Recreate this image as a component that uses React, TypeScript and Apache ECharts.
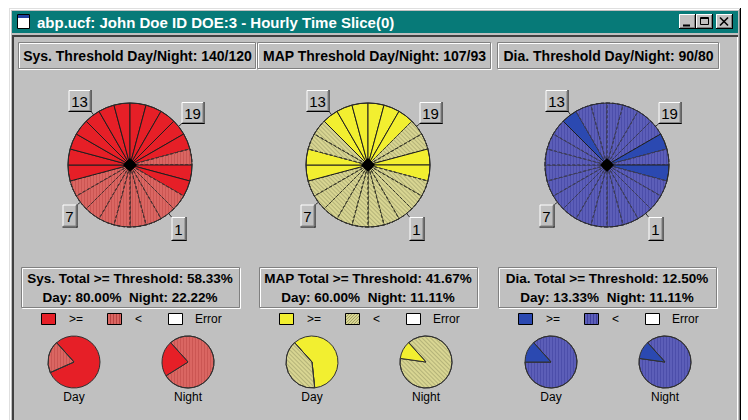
import React, { useEffect, useRef } from "react";
import * as echarts from "echarts";

// ---------------- data ----------------
const titleText = "abp.ucf: John Doe ID DOE:3 - Hourly Time Slice(0)";
const measureNames = ["Sys.", "MAP", "Dia."];
const dayThresholds = [140, 107, 90];
const nightThresholds = [120, 93, 80];
const hours = [1, 2, 3, 4, 5, 6, 7, 8, 9, 10, 11, 12, 13, 14, 15, 16, 17, 18, 19, 20, 21, 22, 23, 24];
const dayHours = [7, 8, 9, 10, 11, 12, 13, 14, 15, 16, 17, 18, 19, 20, 21];
// 1 = hourly mean >= threshold, 0 = below threshold
const sysAbove = [0, 0, 0, 0, 0, 0, 0, 0, 1, 1, 1, 1, 1, 1, 1, 1, 1, 1, 1, 1, 0, 1, 1, 0];
const mapAbove = [0, 0, 0, 0, 0, 0, 0, 0, 1, 1, 0, 0, 1, 1, 1, 1, 1, 1, 0, 0, 1, 1, 0, 0];
const diaAbove = [0, 0, 0, 0, 0, 0, 0, 0, 0, 0, 0, 0, 1, 0, 0, 0, 0, 0, 0, 1, 0, 1, 0, 0];
const hourTickLabels = ["13", "19", "7", "1"];
const legendLabels = [">=", "<", "Error"];
const periodLabels = ["Day", "Night"];

// ---------------- styles / layout ----------------
const FONT = '"Liberation Sans", Arial, sans-serif';
const palettes = [
  {
    above: "#e61f27",
    below: "#da6662",
    decal: { symbol: "rect", symbolSize: 1, color: "rgba(170,50,50,0.3)", dashArrayX: [1, 2], dashArrayY: [1, 0], rotation: 0 },
    stripe: "v",
    stripeColor: "rgba(160,40,40,0.55)",
    dash: "#4a3030",
  },
  {
    above: "#f2ef30",
    below: "#d8d592",
    decal: { symbol: "rect", symbolSize: 1, color: "rgba(150,150,100,0.55)", dashArrayX: [1, 0], dashArrayY: [1, 2], rotation: Math.PI / 4 },
    stripe: "d",
    stripeColor: "rgba(150,150,90,0.8)",
    dash: "#3a3a2a",
  },
  {
    above: "#2b49b1",
    below: "#5c5eb8",
    decal: { symbol: "rect", symbolSize: 1, color: "rgba(40,40,140,0.3)", dashArrayX: [1, 2], dashArrayY: [1, 0], rotation: 0 },
    stripe: "v",
    stripeColor: "rgba(40,40,140,0.55)",
    dash: "#3c3c58",
  },
];
const pieCx = [130, 368, 607];
const BIG_CY = 165;
const BIG_R = 62;
const SMALL_CY = 362;
const SMALL_R = 26;
const smallOffsets = [-56, 58];
const headerBoxes = [
  [18, 237],
  [257, 233],
  [497, 221],
];
// hour label boxes: [dx, dy, w, h] relative to pie centre (centre of box)
const hourBoxGeom = [
  [-50, -64, 23, 22],
  [63, -52, 23, 22],
  [-60, 51, 15, 23],
  [49, 64, 15, 24],
];

function stats(arr: number[]) {
  let total = 0, dA = 0, dN = 0, nA = 0, nN = 0;
  hours.forEach((h, i) => {
    total += arr[i];
    if (dayHours.includes(h)) { dN++; dA += arr[i]; } else { nN++; nA += arr[i]; }
  });
  return { total: (total / arr.length) * 100, day: (dA / dN) * 100, night: (nA / nN) * 100 };
}

function buildOption() {
  const measures = [sysAbove, mapAbove, diaAbove];
  const els: any[] = [];
  const rect = (x: number, y: number, w: number, h: number, fill: any, stroke: any = null, lw = 1, z = 0) =>
    els.push({ type: "rect", shape: { x, y, width: w, height: h }, style: { fill, stroke, lineWidth: lw }, z, silent: true });
  const line = (x1: number, y1: number, x2: number, y2: number, stroke: string, lw = 1, z = 0) =>
    els.push({ type: "line", shape: { x1, y1, x2, y2 }, style: { stroke, lineWidth: lw }, z, silent: true });
  const text = (x: number, y: number, t: string, font: string, fill = "#000", align = "left", z = 1) =>
    els.push({ type: "text", x, y, style: { text: t, font, fill, textAlign: align, textVerticalAlign: "middle" }, z, silent: true });
  const raised = (x: number, y: number, w: number, h: number, z = 0) => {
    rect(x, y, w, h, "#c0c0c0", null, 1, z);
    line(x + 0.5, y + 0.5, x + w - 1, y + 0.5, "#ffffff", 1, z);
    line(x + 0.5, y + 0.5, x + 0.5, y + h - 1, "#ffffff", 1, z);
    line(x + w - 0.5, y, x + w - 0.5, y + h, "#000000", 1, z);
    line(x, y + h - 0.5, x + w, y + h - 0.5, "#000000", 1, z);
    line(x + w - 1.5, y + 1, x + w - 1.5, y + h - 1, "#808080", 1, z);
    line(x + 1, y + h - 1.5, x + w - 1, y + h - 1.5, "#808080", 1, z);
  };
  const etched = (x: number, y: number, w: number, h: number) => {
    rect(x + 1.5, y + 1.5, w, h, null, "#ffffff");
    rect(x + 0.5, y + 0.5, w, h, null, "#808080");
  };

  // window
  rect(0, 0, 748, 420, "#ffffff");
  rect(9, 8, 732, 420, "#c0c0c0");
  line(9.5, 8, 9.5, 420, "#dfdfdf");
  line(9, 8.5, 741, 8.5, "#dfdfdf");
  line(10.5, 9, 10.5, 420, "#ffffff");
  line(10, 9.5, 740, 9.5, "#ffffff");
  line(740.5, 8, 740.5, 420, "#000000");
  line(739.5, 9, 739.5, 420, "#808080");
  // title bar
  rect(12, 11, 726, 22, "#077a78");
  rect(17.5, 14.5, 12, 14, "#ffffff", "#000000");
  rect(18, 15, 11, 3, "#2040a0");
  text(37, 22.5, titleText, `bold 15px ${FONT}`, "#ffffff");
  // window buttons
  raised(679, 14, 17, 15);
  line(683, 25.5, 690, 25.5, "#000", 2);
  raised(696, 14, 17, 15);
  rect(700.5, 17.5, 8, 7, null, "#000");
  line(700, 18.5, 709, 18.5, "#000", 1);
  raised(716, 14, 17, 15);
  line(720, 17.5, 728, 25.5, "#000", 1.6);
  line(728, 17.5, 720, 25.5, "#000", 1.6);
  // client area frame
  line(12, 36, 738, 36, "#404040", 2);
  line(13, 36, 13, 420, "#404040", 2);
  line(737.5, 37, 737.5, 420, "#ffffff", 1);

  const series: any[] = [];
  measures.forEach((vals, mi) => {
    const cx = pieCx[mi];
    const pal = palettes[mi];
    const st = stats(vals);
    const name = measureNames[mi];

    // header box
    const [hx, hw] = headerBoxes[mi];
    etched(hx, 42, hw, 26);
    text(hx + hw / 2 + 1, 56, `${name} Threshold Day/Night: ${dayThresholds[mi]}/${nightThresholds[mi]}`, `bold 14px ${FONT}`, "#000", "center");

    // hour pie
    const hourData = hours.map((h, i) => ({
      name: String(h),
      value: 1,
      itemStyle: vals[i]
        ? { color: pal.above, borderColor: "#1e1e1e", borderWidth: 1 }
        : { color: pal.below, decal: pal.decal, borderColor: pal.dash, borderWidth: 1, borderType: [3, 2] },
    }));
    series.push({
      type: "pie",
      silent: true,
      center: [cx, BIG_CY],
      radius: BIG_R,
      startAngle: -45,
      clockwise: true,
      label: { show: false },
      labelLine: { show: false },
      emphasis: { disabled: true },
      data: hourData,
    });
    // outer outline
    els.push({ type: "circle", shape: { cx, cy: BIG_CY, r: BIG_R }, style: { fill: null, stroke: "#2a2a2a", lineWidth: 1 }, z: 19, silent: true });
    // centre hub
    els.push({
      type: "polygon",
      shape: { points: [[cx, BIG_CY - 7], [cx + 7, BIG_CY], [cx, BIG_CY + 7], [cx - 7, BIG_CY]] },
      style: { fill: "#000" },
      z: 20,
      silent: true,
    });
    els.push({ type: "circle", shape: { cx, cy: BIG_CY, r: 5 }, style: { fill: "#000" }, z: 20, silent: true });

    // hour label boxes
    hourBoxGeom.forEach(([dx, dy, w, h], k) => {
      const bx = cx + dx - w / 2;
      const by = BIG_CY + dy - h / 2;
      const cornerX = dx < 0 ? bx + w : bx;
      const cornerY = dy < 0 ? by + h : by;
      const vx = cornerX - cx, vy = cornerY - BIG_CY;
      const d = Math.sqrt(vx * vx + vy * vy);
      line(cornerX, cornerY, cx + (vx / d) * BIG_R, BIG_CY + (vy / d) * BIG_R, "#303030", 1, 5);
      raised(bx, by, w, h, 5);
      els.push({
        type: "text",
        x: bx + w / 2 - 0.5,
        y: by + h / 2,
        style: { text: hourTickLabels[k], font: `15px ${FONT}`, fill: "#000", textAlign: "center", textVerticalAlign: "middle" },
        z: 6,
        silent: true,
      });
    });

    // summary box
    etched(cx - 109, 267, 218, 40);
    text(cx, 278, `${name} Total >= Threshold: ${st.total.toFixed(2)}%`, `bold 13.5px ${FONT}`, "#000", "center");
    text(cx, 297, `Day: ${st.day.toFixed(2)}%  Night: ${st.night.toFixed(2)}%`, `bold 13.5px ${FONT}`, "#000", "center");

    // legend
    const ly = 313;
    rect(cx - 88.5, ly + 0.5, 14, 11, pal.above, "#000");
    text(cx - 61, ly + 6, legendLabels[0], `12px ${FONT}`);
    rect(cx - 22.5, ly + 0.5, 14, 11, pal.below, "#000");
    {
      const x0 = cx - 22, y0 = ly + 1, w = 13, h = 10;
      if (pal.stripe === "v") {
        for (let sx = x0 + 2; sx < x0 + w; sx += 3) line(sx + 0.5, y0, sx + 0.5, y0 + h, pal.stripeColor, 1, 1);
      } else {
        for (let dd = 3; dd < w + h; dd += 3) {
          const t0 = Math.max(0, h - dd), t1 = Math.min(h, w + h - dd);
          if (t1 > t0) line(x0 + dd - h + t0, y0 + h - t0, x0 + dd - h + t1, y0 + h - t1, pal.stripeColor, 1, 1);
        }
      }
    }
    text(cx + 5, ly + 6, legendLabels[1], `12px ${FONT}`);
    rect(cx + 38.5, ly + 0.5, 14, 11, "#ffffff", "#000");
    text(cx + 65, ly + 6, legendLabels[2], `12px ${FONT}`);

    // day / night pies
    [st.day, st.night].forEach((pct, pi) => {
      const items = [
        { name: ">=", value: pct, itemStyle: { color: pal.above } },
        { name: "<", value: 100 - pct, itemStyle: { color: pal.below, decal: pal.decal } },
      ].sort((a, b) => b.value - a.value);
      const px = cx + smallOffsets[pi];
      series.push({
        type: "pie",
        silent: true,
        center: [px, SMALL_CY],
        radius: SMALL_R,
        startAngle: 132,
        clockwise: true,
        label: { show: false },
        labelLine: { show: false },
        emphasis: { disabled: true },
        itemStyle: { borderColor: "#303030", borderWidth: 1 },
        data: items,
      });
      text(px, 397, periodLabels[pi], `12px ${FONT}`, "#000", "center");
    });
  });

  return {
    animation: false,
    backgroundColor: "#ffffff",
    graphic: { elements: els },
    series,
  };
}

export default function App() {
  const ref = useRef<HTMLDivElement>(null);
  useEffect(() => {
    const chart = echarts.init(ref.current!, null, { renderer: "svg" });
    chart.setOption(buildOption() as any);
    return () => chart.dispose();
  }, []);
  return (
    <div
      ref={ref}
      style={{ position: "fixed", left: 0, top: 0, width: 748, height: 420, background: "#fff" }}
    />
  );
}
